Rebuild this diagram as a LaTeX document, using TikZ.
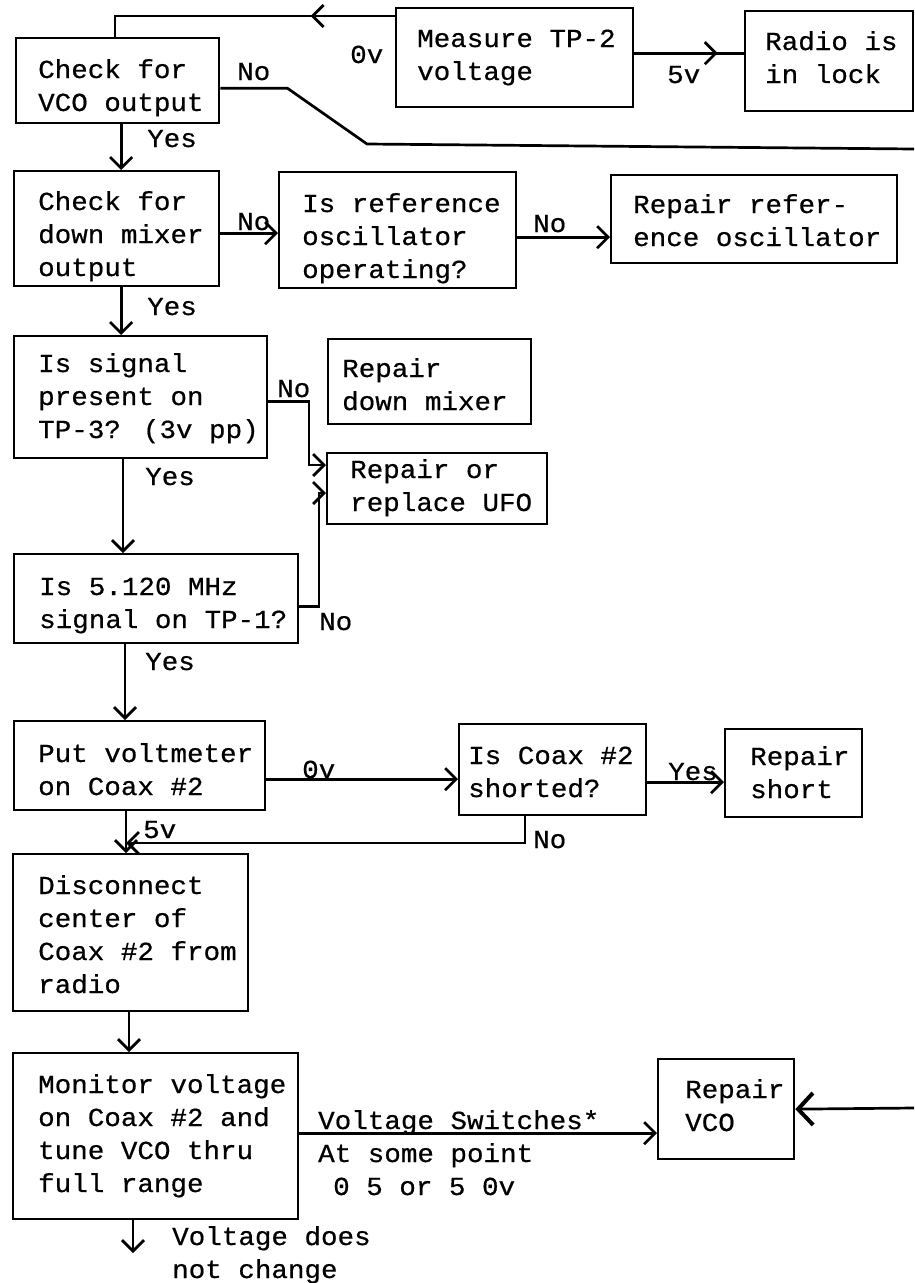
\documentclass[tikz,border=0pt]{standalone}
\usepackage{fontspec}
\newfontfamily\tw[FakeStretch=1.06,FakeBold=0.6]{Liberation Mono}
\usetikzlibrary{arrows.meta,calc,decorations.markings}
\newcommand\mkbox[5]{\node[box,anchor=north west,minimum width={(#4-#2)*1pt},minimum height={(#5-#3)*1pt}] (#1) at (#2,#3) {};}
\newcommand\tl[1]{\begin{tabular}[t]{@{}l@{}}#1\end{tabular}}
\begin{document}
\begin{tikzpicture}[x=1pt,y=-1pt,
  box/.style={draw,line width=2.3pt,rectangle,inner sep=0pt},
  txt/.style={inner sep=0pt,anchor=base west,font=\tw\fontsize{26}{33}\selectfont},
  conn/.style={line width=2.7pt},
  barb/.style={-{Straight Barb[length=11pt,width=22pt]}},
  bigbarb/.style={-{Straight Barb[length=15pt,width=32pt,line width=4pt]}},
  midarrow/.style={postaction={decorate},decoration={markings,mark=at position #1 with {\arrow{Straight Barb[length=11pt,width=22pt]}}}}
]
\useasboundingbox (0,0) rectangle (914,1283);

% boxes
\mkbox{A}{15}{37}{218}{122}
\mkbox{M}{395}{7}{632}{106}
\mkbox{R}{744}{10}{912}{110}
\mkbox{B}{13}{170}{218}{285}
\mkbox{C}{278}{171}{515}{287}
\mkbox{D}{610}{174}{896}{262}
\mkbox{E}{13}{335}{266}{457}
\mkbox{F}{327}{338}{530}{423}
\mkbox{G}{326}{452}{546}{523}
\mkbox{H}{13}{553}{297}{642}
\mkbox{I}{13}{720}{264}{809}
\mkbox{K}{458}{723}{645}{814}
\mkbox{L}{724}{728}{861}{816}
\mkbox{J}{12}{853}{247}{1010}
\mkbox{N}{12}{1052}{297}{1218}
\mkbox{V}{657}{1058}{793}{1158}

% box texts
\node[txt] (tA) at (38,78) {\tl{Check for\\VCO output}};
\node[txt] (tM) at (417,47) {\tl{Measure TP-2\\voltage}};
\node[txt] (tR) at (765,50) {\tl{Radio is\\in lock}};
\node[txt] (tB) at (38,210) {\tl{Check for\\down mixer\\output}};
\node[txt] (tC) at (302,212) {\tl{Is reference\\oscillator\\operating?}};
\node[txt] (tD) at (633,213) {\tl{Repair refer-\\ence oscillator}};
\node[txt] (tE) at (38,372) {\tl{Is signal\\present on\\TP-3? (3v pp)}};
\node[txt] (tF) at (342,377) {\tl{Repair\\down mixer}};
\node[txt] (tG) at (350,478) {\tl{Repair or\\replace UFO}};
\node[txt] (tH) at (39,595) {\tl{Is 5.120 MHz\\signal on TP-1?}};
\node[txt] (tI) at (38,762) {\tl{Put voltmeter\\on Coax \#2}};
\node[txt] (tK) at (468,764) {\tl{Is Coax \#2\\shorted?}};
\node[txt] (tL) at (750,765) {\tl{Repair\\short}};
\node[txt] (tJ) at (38,894) {\tl{Disconnect\\center of\\Coax \#2 from\\radio}};
\node[txt] (tN) at (38,1093) {\tl{Monitor voltage\\on Coax \#2 and\\tune VCO thru\\full range}};
\node[txt] (tV) at (685,1098) {\tl{Repair\\VCO}};

% labels
\node[txt] (l1) at (350,63) {0v};
\node[txt] (l2) at (667,83) {5v};
\node[txt] (l3) at (237,80) {No};
\node[txt] (l4) at (147,147) {Yes};
\node[txt] (l5) at (237,230) {No};
\node[txt] (l6) at (533,232) {No};
\node[txt] (l7) at (147,315) {Yes};
\node[txt] (l8) at (277,397) {No};
\node[txt] (l9) at (145,485) {Yes};
\node[txt] (l10) at (319,630) {No};
\node[txt] (l11) at (145,670) {Yes};
\node[txt] (l12) at (302,778) {0v};
\node[txt] (l13) at (143,838) {5v};
\node[txt] (l14) at (668,780) {Yes};
\node[txt] (l15) at (533,848) {No};
\node[txt] (l16) at (318,1129) {Voltage Switches*};
\node[txt] (l17) at (318,1162) {At some point};
\node[txt] (l18) at (333,1195) {0 5 or 5 0v};
\node[txt] (l19) at (172,1245) {\tl{Voltage does\\not change}};

% connectors
\draw[conn,midarrow=0.28] ($(M.north west)+(0,9)$) -| ($(A.north west)+(100,0)$);
\coordinate (mr) at ($(M.east)+(0,-4.5)$);
\draw[conn,midarrow=0.76] (mr) -- (mr -| R.west);
\coordinate (aNo) at ($(A.east)+(0,7.5)$);
\coordinate (offR) at (914,149);
\draw[conn] (aNo) -- ++(67,0) -- (367,144) -- (offR);
\draw[conn,barb] ($(A.south)+(3.5,0)$) -- ($(B.north)+(4.5,0)$);
\coordinate (bc) at ($(B.east)+(0,4.5)$);
\draw[conn,barb] (bc) -- (bc -| C.west);
\coordinate (cd) at ($(C.east)+(0,7)$);
\draw[conn,barb] (cd) -- (cd -| D.west);
\draw[conn,barb] ($(B.south)+(4.5,0)$) -- ($(E.north)+(-19.5,0)$);
\coordinate (en) at ($(E.east)+(0,4)$);
\coordinate (eg) at (309,465);
\draw[conn,barb] (en) -| (eg) -- (eg -| G.west);
\draw[conn,barb] ($(E.south west)+(110,0)$) -- ($(H.north west)+(110,0)$);
\coordinate (hn) at ($(H.east)+(0,7.5)$);
\coordinate (hg) at (319,493);
\draw[conn,barb] (hn) -| (hg) -- (hg -| G.west);
\draw[conn,barb] ($(H.south west)+(112,0)$) -- ($(I.north west)+(112,0)$);
\coordinate (ik) at ($(I.east)+(0,13.5)$);
\draw[conn,barb] (ik) -- (ik -| K.west);
\coordinate (kl) at ($(K.east)+(0,12.5)$);
\draw[conn,barb] (kl) -- (kl -| L.west);
\coordinate (ij) at ($(I.south west)+(113,0)$);
\draw[conn,barb] (ij) -- (ij |- J.north);
\coordinate (ks) at ($(K.south west)+(67,0)$);
\coordinate (kn) at (525,843);
\draw[conn,barb] (ks) -- (kn) -- (kn -| ij);
\draw[conn,barb] ($(J.south west)+(117,0)$) -- ($(N.north west)+(117,0)$);
\coordinate (nv) at ($(N.east)+(0,-3)$);
\draw[conn,barb] (nv) -- (nv -| V.west);
\coordinate (offR2) at (914,1108);
\draw[conn,bigbarb] (offR2) -- (V.east);
\coordinate (nd) at ($(N.south west)+(121,0)$);
\coordinate (ndEnd) at (133,1253);
\draw[conn,barb] (nd) -- (ndEnd);
\end{tikzpicture}
\end{document}
